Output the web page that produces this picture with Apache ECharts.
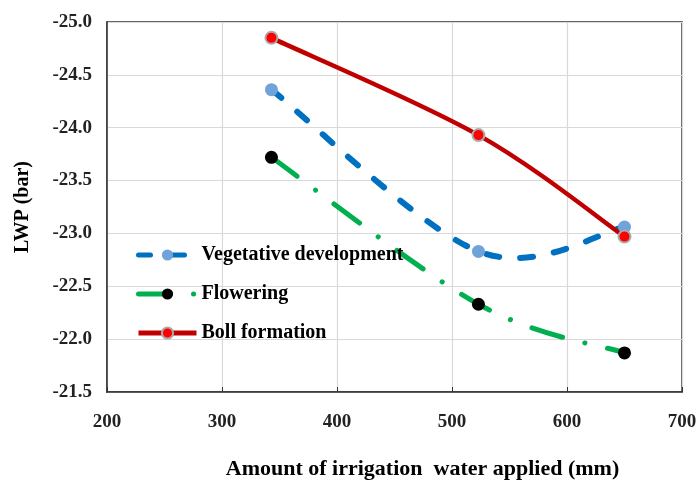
<!DOCTYPE html>
<html><head><meta charset="utf-8">
<script src="https://cdn.jsdelivr.net/npm/echarts@6/dist/echarts.min.js"></script>
<style>html,body{margin:0;padding:0;background:#fff}#c{width:697px;height:482px}</style>
</head><body><div id="c"></div>
<script>
const xValues = [343, 523, 650];
const vegetative = [-24.36, -22.83, -23.06];
const flowering = [-23.72, -22.33, -21.87];
const boll = [-24.85, -23.93, -22.97];
const yTicks = [-25.0, -24.5, -24.0, -23.5, -23.0, -22.5, -22.0, -21.5];
const xTicks = [200, 300, 400, 500, 600, 700];
const seriesNames = ['Vegetative development', 'Flowering', 'Boll formation'];

const font = 'Liberation Serif';
function pairs(v){ return xValues.map((x,i)=>[x,v[i]]); }

// Excel-like Catmull-Rom spline through the data points, in pixel space via api.coord
function splineSeries(vals, style){
  return {
    type:'custom', silent:true, z:2, data:pairs(vals),
    renderItem:function(params, api){
      if (params.dataIndex !== 0) return;
      const p = xValues.map((x,i)=>api.coord([x, vals[i]]));
      const n = p.length;
      let d = 'M' + p[0][0] + ' ' + p[0][1];
      for (let i=0;i<n-1;i++){
        const p0 = p[Math.max(i-1,0)], p1 = p[i], p2 = p[i+1], p3 = p[Math.min(i+2,n-1)];
        const c1x = p1[0] + (p2[0]-p0[0])/6, c1y = p1[1] + (p2[1]-p0[1])/6;
        const c2x = p2[0] - (p3[0]-p1[0])/6, c2y = p2[1] - (p3[1]-p1[1])/6;
        d += ' C' + c1x + ' ' + c1y + ' ' + c2x + ' ' + c2y + ' ' + p2[0] + ' ' + p2[1];
      }
      return {type:'path', shape:{pathData:d}, style:Object.assign({fill:null}, style)};
    }
  };
}

const chart = echarts.init(document.getElementById('c'));
chart.setOption({
  animation:false,
  grid:{left:107,right:15,top:22,bottom:90,show:true,borderColor:'#333',borderWidth:1.5,
        outerBoundsMode:'none', containLabel:false},
  legend:{
    orient:'vertical', left:131, top:240, itemGap:19, itemWidth:58, itemHeight:14,
    textStyle:{fontFamily:font,fontWeight:'bold',fontSize:20,color:'#000'},
    lineStyle:{width:5, opacity:1},
    data:seriesNames
  },
  xAxis:{
    type:'value', min:200, max:700, interval:100,
    name:'Amount of irrigation  water applied (mm)', nameLocation:'middle', nameGap:66,
    nameTextStyle:{fontFamily:font,fontWeight:'bold',fontSize:22,color:'#000',padding:[0,0,0,56]},
    axisLine:{show:true,lineStyle:{color:'#333',width:1.5}},
    axisTick:{show:true,inside:true,length:5,lineStyle:{color:'#333'}},
    axisLabel:{fontFamily:font,fontWeight:'bold',fontSize:19,color:'#222',margin:21},
    splitLine:{show:true,lineStyle:{color:'#d9d9d9',width:1.2}}
  },
  yAxis:{
    type:'value', min:-25, max:-21.5, interval:0.5, inverse:true,
    name:'LWP (bar)', nameLocation:'middle', nameGap:74, nameRotate:90,
    nameTextStyle:{fontFamily:font,fontWeight:'bold',fontSize:20,color:'#000'},
    axisLine:{show:true,lineStyle:{color:'#333',width:1.5}},
    axisTick:{show:false},
    axisLabel:{fontFamily:font,fontWeight:'bold',fontSize:19,color:'#222',margin:15,
      formatter:v=>v.toFixed(1)},
    splitLine:{show:true,lineStyle:{color:'#d9d9d9',width:1.2}}
  },
  series:[
    splineSeries(vegetative,{stroke:'#0070C0',lineWidth:6,lineDash:[13,21],lineCap:'round'}),
    splineSeries(flowering,{stroke:'#00B050',lineWidth:5,lineDash:[32,23,0.1,23],lineCap:'round'}),
    splineSeries(boll,{stroke:'#C00000',lineWidth:4.5}),
    {name:seriesNames[0],type:'line',z:3,data:pairs(vegetative),
     symbol:'circle',symbolSize:13,
     lineStyle:{color:'#0070C0',width:6,type:[12,22],cap:'round',opacity:0},
     itemStyle:{color:'#6FA3DA',borderWidth:0}},
    {name:seriesNames[1],type:'line',z:3,data:pairs(flowering),
     symbol:'circle',symbolSize:13,
     lineStyle:{color:'#00B050',width:5,type:[32,23,0.1,23],cap:'round',opacity:0},
     itemStyle:{color:'#000',borderWidth:0}},
    {name:seriesNames[2],type:'line',z:3,data:pairs(boll),
     symbol:'circle',symbolSize:12,
     lineStyle:{color:'#C00000',width:4.5,opacity:0},
     itemStyle:{color:'#FF0000',borderColor:'#aaa',borderWidth:2}}
  ]
});
</script></body></html>
